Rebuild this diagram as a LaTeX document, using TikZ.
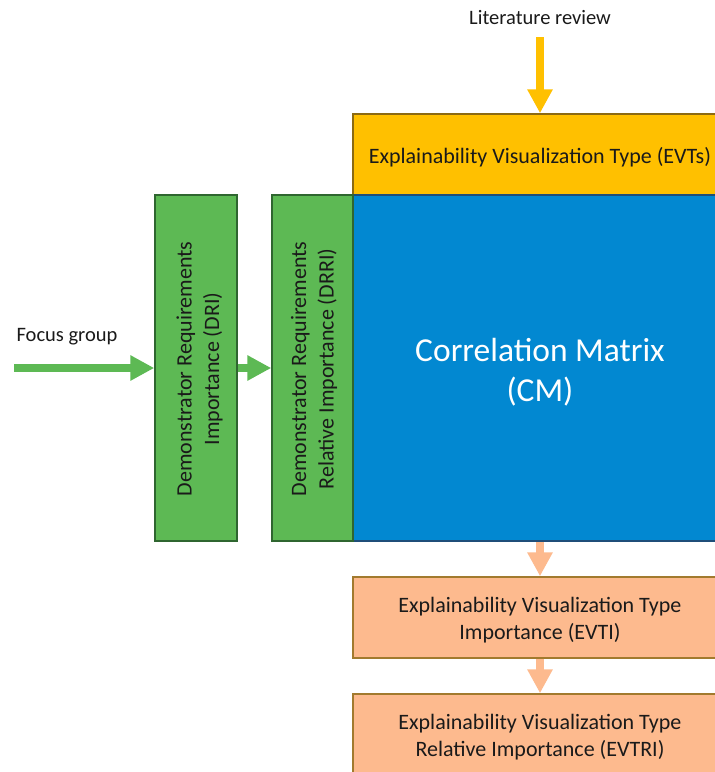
\documentclass[tikz,border=0pt]{standalone}
\usepackage{fontspec}
\setmainfont{Carlito}
\usetikzlibrary{arrows.meta}
\definecolor{ygold}{HTML}{FFC000}
\definecolor{ygoldd}{HTML}{8C6A12}
\definecolor{cmblue}{HTML}{0288D1}
\definecolor{cmblued}{HTML}{1F4E79}
\definecolor{grn}{HTML}{5DB954}
\definecolor{grnd}{HTML}{2F6630}
\definecolor{org}{HTML}{FDBA8E}
\definecolor{orgd}{HTML}{A27A2E}
\definecolor{txt}{HTML}{1A1A1A}
\tikzset{
  box/.style={draw, line width=1.5pt, inner sep=0pt},
  btxt/.style={align=center, text=txt, inner sep=0pt, font=\fontsize{22}{27}\selectfont},
  rtxt/.style={rotate=90, align=center, text=txt, font=\fontsize{22}{27.5}\selectfont},
  lbl/.style={text=txt, font=\fontsize{20.5}{24}\selectfont, inner sep=0pt},
  arr/.style={line width=8pt, -{Triangle[length=24pt,width=24pt]}},
}
\begin{document}
\begin{tikzpicture}[x=1pt,y=-1pt]
\clip (0,0) rectangle (715,772);
\fill[white] (0,0) rectangle (715,772);
% boxes
\node[box, fill=ygold, draw=ygoldd, minimum width=374pt, minimum height=81pt] (evts) at (540,154.5) {};
\node[btxt] (evtsT) at ([yshift=-2.5pt]evts.center) {Explainability Visualization Type (EVTs)};
\node[box, fill=cmblue, draw=cmblued, minimum width=374pt, minimum height=346pt] (cm) at (540,368) {};
\node[btxt, text=white, font=\fontsize{33.5}{40}\selectfont] (cmT) at ([yshift=-4pt]cm.center) {Correlation Matrix\\(CM)};
\node[box, fill=grn, draw=grnd, minimum width=82pt, minimum height=346pt] (dri) at (196,368) {};
\node[rtxt] (driT) at ([xshift=3.5pt,yshift=-1pt]dri.center) {Demonstrator Requirements\\Importance (DRI)};
\node[box, fill=grn, draw=grnd, minimum width=81pt, minimum height=346pt] (drri) at (312.5,368) {};
\node[rtxt] (drriT) at ([xshift=1.5pt,yshift=-1pt]drri.center) {Demonstrator Requirements\\Relative Importance (DRRI)};
\node[box, fill=org, draw=orgd, minimum width=374pt, minimum height=81pt] (evti) at (540,617.5) {};
\node[btxt] (evtiT) at ([yshift=-3pt]evti.center) {Explainability Visualization Type\\Importance (EVTI)};
\node[box, fill=org, draw=orgd, minimum width=374pt, minimum height=81pt] (evtri) at (540,734.5) {};
\node[btxt] (evtriT) at ([yshift=-3pt]evtri.center) {Explainability Visualization Type\\Relative Importance (EVTRI)};
% labels
\node[lbl] (lit) at (540,18) {Literature review};
\node[lbl] (fg) at (67,336.5) {Focus group};
\coordinate (litstart) at (540,37);
\coordinate (fgstart) at (14,368);
% arrows
\draw[arr, ygold] (litstart) -- (evts.north);
\draw[arr, grn] (fgstart) -- (dri.west);
\draw[arr, grn] (dri.east) -- (drri.west);
\draw[arr, org] (cm.south) -- (evti.north);
\draw[arr, org] (evti.south) -- (evtri.north);
\end{tikzpicture}
\end{document}
